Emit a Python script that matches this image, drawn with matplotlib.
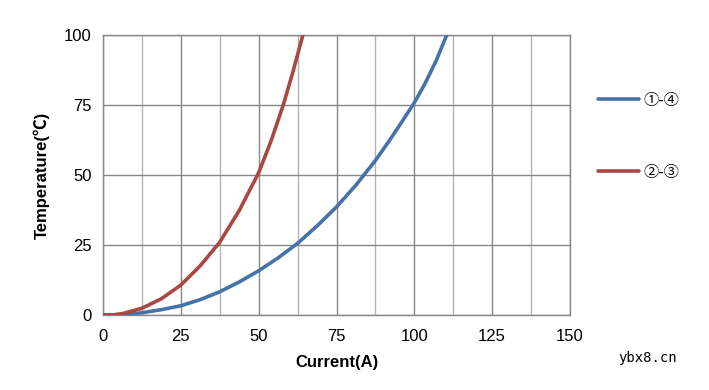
import numpy as np
import matplotlib
matplotlib.use("Agg")
import matplotlib.pyplot as plt
from matplotlib.ticker import MultipleLocator

plt.rcParams['font.family'] = ['Liberation Sans', 'Noto Sans CJK JP', 'DejaVu Sans']

# values
blue_x = [0, 6, 12.5, 18.75, 25, 31.25, 37.5, 43.75, 50, 56.25, 62.5, 68.75,
          75, 81.25, 87.5, 92, 96, 100, 103.5, 107, 110.4]
blue_y = [0, 0, 0.8, 1.9, 3.3, 5.5, 8.3, 11.8, 15.8, 20.4, 25.6, 31.8,
          38.6, 46.4, 55.2, 62.3, 69.0, 75.8, 82.8, 90.8, 100]
red_x = [0, 3, 6.25, 12.5, 18.75, 25, 31.25, 37.5, 43.75, 50, 54, 57.9, 61, 64.2]
red_y = [0, 0, 0.5, 2.4, 5.8, 10.7, 17.6, 26, 37.3, 50.8, 62.2, 75, 86.8, 100]
labels = ['①-④', '②-③']
x_ticks = [0, 25, 50, 75, 100, 125, 150]
y_ticks = [0, 25, 50, 75, 100]

blue = '#4572A7'
red = '#AA4643'
grid_major = '#878787'
grid_minor = '#b4b4b4'

fig = plt.figure(figsize=(7.09, 3.90), dpi=100)
ax = fig.add_axes([103/709, 75/390, 467/709, 280/390])

ax.plot(blue_x, blue_y, color=blue, lw=2.6, label=labels[0],
        solid_capstyle='round', solid_joinstyle='round', zorder=3)
ax.plot(red_x, red_y, color=red, lw=2.6, label=labels[1],
        solid_capstyle='round', solid_joinstyle='round', zorder=3)

ax.set_xlim(0, 150)
ax.set_ylim(0, 100)
ax.set_xticks(x_ticks)
ax.set_yticks(y_ticks)
ax.xaxis.set_minor_locator(MultipleLocator(12.5))
ax.grid(True, which='major', color=grid_major, lw=1.0)
ax.grid(True, which='minor', axis='x', color=grid_minor, lw=1.0)
ax.set_axisbelow(True)
for s in ax.spines.values():
    s.set_color(grid_major)
    s.set_linewidth(1.0)
ax.tick_params(which='both', length=0, labelsize=12, colors='black')
ax.tick_params(axis='x', pad=10)
ax.tick_params(axis='y', pad=8)

ax.set_xlabel('Current(A)', fontsize=12, fontweight='bold', labelpad=8)
ax.set_ylabel('Temperature(℃)', fontsize=12, fontweight='bold', labelpad=10)

fig.legend(loc='center left', bbox_to_anchor=(598/709, 1 - 136/390), frameon=False,
           handlelength=2.7, handletextpad=0.25, labelspacing=3.6,
           borderpad=0, borderaxespad=0,
           prop={'family': ['Noto Sans CJK JP', 'DejaVu Sans'], 'size': 11})

fig.text(618/709, 1 - 358/390, 'ybx8.cn', fontsize=10, family='DejaVu Sans Mono', va='center')

fig.savefig('out.png', dpi=100)
